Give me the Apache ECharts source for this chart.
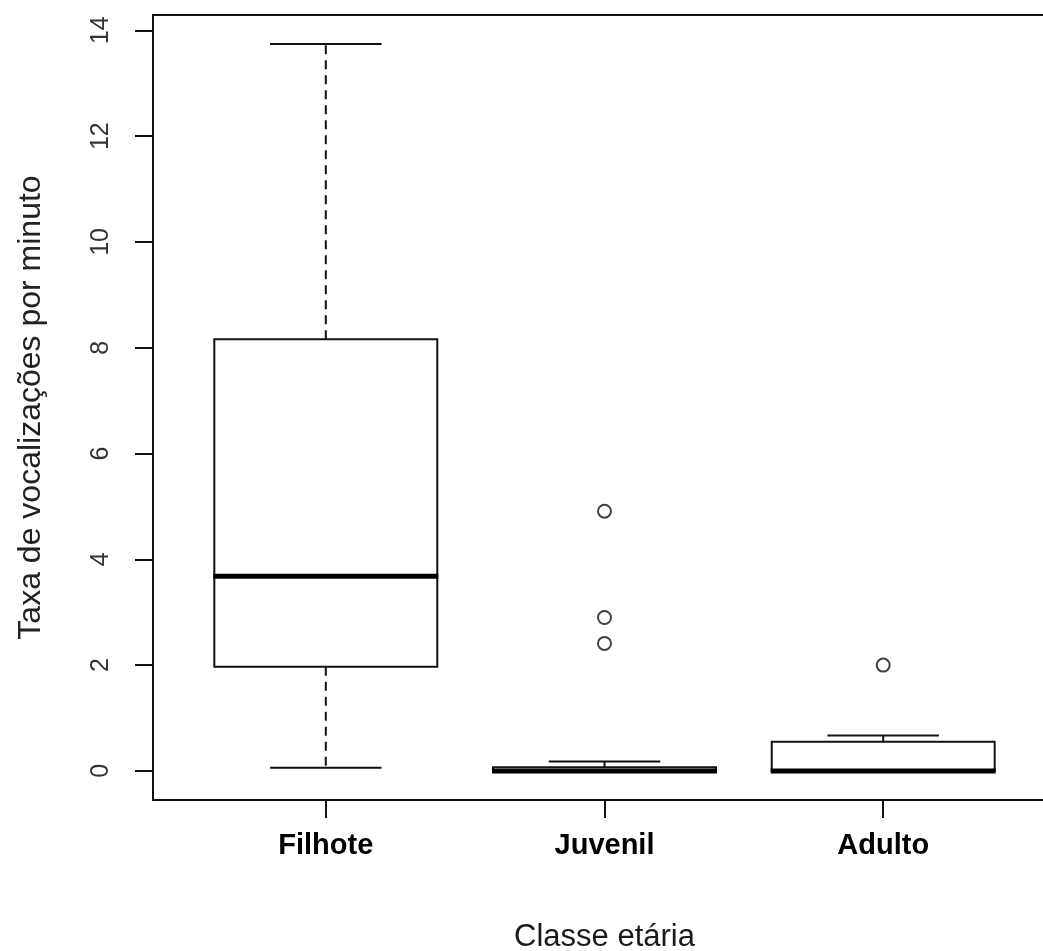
<!DOCTYPE html>
<html>
<head>
<meta charset="utf-8">
<title>Taxa de vocalizações por classe etária</title>
<script src="https://cdn.jsdelivr.net/npm/echarts@6/dist/echarts.min.js"></script>
<style>
  html, body { margin: 0; padding: 0; background: #fff; overflow: hidden; }
  /* the plot frame runs past the right edge of the window, so the canvas is wider */
  #chart { width: 1080px; height: 951px; }
</style>
</head>
<body>
<div id="chart"></div>
<script>
// Age classes and five-number summaries of vocalisation rate (calls per minute)
const categories = ['Filhote', 'Juvenil', 'Adulto'];
const lowerWhisker = [0.06, 0, 0];
const q1 = [1.97, 0, 0];
const median = [3.68, 0, 0];
const q3 = [8.16, 0.07, 0.55];
const upperWhisker = [13.74, 0.18, 0.67];
// Points beyond the whiskers, per class
const outliers = [[], [4.91, 2.90, 2.41], [2.0]];
const yTicks = [0, 2, 4, 6, 8, 10, 12, 14];

const font = 'Liberation Sans, Arial, sans-serif';

const boxData = categories.map((c, i) => [i + 1, lowerWhisker[i], q1[i], median[i], q3[i], upperWhisker[i]]);
const outlierData = [];
outliers.forEach((vals, i) => vals.forEach(v => outlierData.push([i + 1, v])));

// One box: dashed whiskers with end caps, the Q1-Q3 box and a heavy median bar
function renderBox(params, api) {
  const x = api.value(0);
  const lo = api.coord([x, api.value(1)]);
  const b1 = api.coord([x, api.value(2)]);
  const md = api.coord([x, api.value(3)]);
  const b3 = api.coord([x, api.value(4)]);
  const hi = api.coord([x, api.value(5)]);
  const halfBox = api.size([0.4, 0])[0];
  const halfCap = api.size([0.2, 0])[0];
  const cx = lo[0];
  const stroke = '#111';
  return {
    type: 'group',
    children: [
      { type: 'line', shape: { x1: cx, y1: b3[1], x2: cx, y2: hi[1] },
        style: { stroke: stroke, lineWidth: 2, lineDash: [9, 6] } },
      { type: 'line', shape: { x1: cx, y1: b1[1], x2: cx, y2: lo[1] },
        style: { stroke: stroke, lineWidth: 2, lineDash: [9, 6] } },
      { type: 'line', shape: { x1: cx - halfCap, y1: hi[1], x2: cx + halfCap, y2: hi[1] },
        style: { stroke: stroke, lineWidth: 2 } },
      { type: 'line', shape: { x1: cx - halfCap, y1: lo[1], x2: cx + halfCap, y2: lo[1] },
        style: { stroke: stroke, lineWidth: 2 } },
      { type: 'rect', shape: { x: cx - halfBox, y: b3[1], width: halfBox * 2, height: b1[1] - b3[1] },
        style: { fill: '#fff', stroke: stroke, lineWidth: 2 } },
      { type: 'line', shape: { x1: cx - halfBox - 1, y1: md[1], x2: cx + halfBox + 1, y2: md[1] },
        style: { stroke: '#000', lineWidth: 5 } }
    ]
  };
}

const chart = echarts.init(document.getElementById('chart'), null, { renderer: 'canvas' });
chart.setOption({
  animation: false,
  backgroundColor: '#fff',
  grid: {
    left: 153, top: 15, width: 903, height: 785,
    outerBoundsMode: 'none',
    show: true, borderColor: '#111', borderWidth: 2, backgroundColor: 'transparent'
  },
  xAxis: {
    type: 'value',
    min: 0.38, max: 3.62,
    axisLine: { show: false, onZero: false },
    splitLine: { show: false },
    axisTick: { show: true, length: 18, customValues: [1, 2, 3], lineStyle: { color: '#111', width: 2 } },
    axisLabel: {
      customValues: [1, 2, 3],
      formatter: v => categories[Math.round(v) - 1] || '',
      fontFamily: font, fontSize: 29, fontWeight: 'bold', color: '#000', margin: 31
    },
    name: 'Classe etária',
    nameLocation: 'middle',
    nameGap: 122,
    nameTextStyle: { fontFamily: font, fontSize: 31, color: '#1a1a1a' }
  },
  yAxis: {
    type: 'value',
    min: -0.55, max: 14.29,
    axisLine: { show: false, onZero: false },
    splitLine: { show: false },
    axisTick: { show: true, length: 18, customValues: yTicks, lineStyle: { color: '#111', width: 2 } },
    axisLabel: {
      customValues: yTicks,
      rotate: 90,
      fontFamily: font, fontSize: 25, color: '#333', margin: 39
    },
    name: 'Taxa de vocalizações por minuto',
    nameLocation: 'middle',
    nameGap: 106,
    nameTextStyle: { fontFamily: font, fontSize: 32, color: '#222' }
  },
  series: [
    {
      type: 'custom',
      renderItem: renderBox,
      data: boxData,
      encode: { x: 0, y: [1, 2, 3, 4, 5] },
      clip: false,
      z: 2
    },
    {
      type: 'scatter',
      data: outlierData,
      symbol: 'circle',
      symbolSize: 13,
      itemStyle: { color: '#fff', borderColor: '#111', borderWidth: 2 },
      z: 3
    }
  ]
});
</script>
</body>
</html>
